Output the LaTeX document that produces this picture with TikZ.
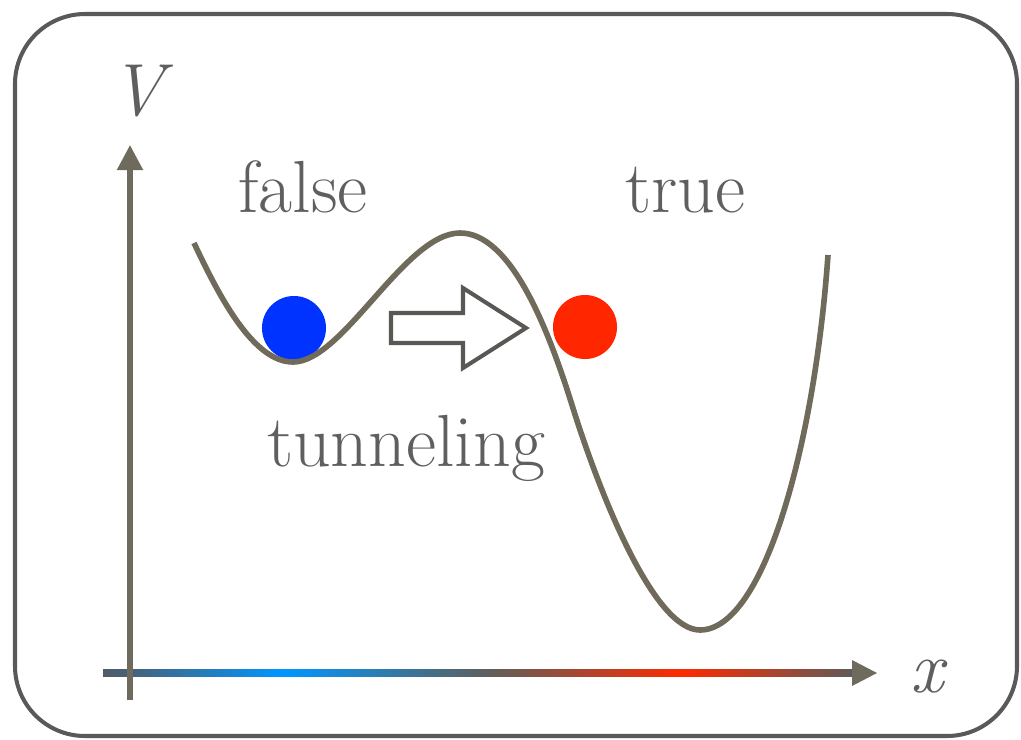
\documentclass[tikz,border=0pt]{standalone}
\usepackage{fontspec}
\usetikzlibrary{arrows.meta, calc}
\definecolor{FrameColor}{RGB}{89,89,89}
\definecolor{AxisColor}{RGB}{111,107,92}
\definecolor{CurveColor}{RGB}{112,106,90}
\definecolor{TextColor}{RGB}{95,95,95}
\definecolor{FalseBlue}{RGB}{0,51,255}
\definecolor{TrueRed}{RGB}{255,38,0}
\definecolor{AxisSlate}{RGB}{82,90,100}
\definecolor{AxisBlue}{RGB}{0,150,255}
\definecolor{AxisMid}{RGB}{95,95,90}
\definecolor{AxisRed}{RGB}{255,42,0}
\definecolor{AxisEnd}{RGB}{95,90,88}
\definecolor{ArrowEdge}{RGB}{90,88,85}

\begin{document}
\begin{tikzpicture}[x=0.01cm, y=-0.01cm,
    frame/.style={draw=FrameColor, line width=1.15pt, rounded corners=0.7cm},
    axis/.style={AxisColor, line width=1.45pt, -{Triangle[length=0.25cm, width=0.25cm]}},
    potential/.style={CurveColor, line width=1.6pt},
    ball/.style={circle, inner sep=0pt, minimum size=0.64cm},
    word/.style={text=TextColor, font=\fontsize{21}{25}\selectfont, inner sep=0pt, anchor=base},
    axislabel/.style={text=TextColor, font=\fontsize{21}{25}\selectfont\itshape, inner sep=0pt, anchor=base},
    hollow/.style={draw=ArrowEdge, fill=white, line width=1.15pt, line join=miter}]
  \useasboundingbox (0,0) rectangle (1021,739);
  \draw[frame] (15,14) rectangle (1017,736);

  % axes
  \coordinate (xstart) at (103,673);
  \coordinate (xend) at (877,673);
  \coordinate (ystart) at (130,700);
  \coordinate (yend) at (130,145);
  \shade[left color=AxisSlate, right color=AxisBlue] (103,669.5) rectangle (284,676.5);
  \shade[left color=AxisBlue, right color=AxisMid] (283,669.5) rectangle (491,676.5);
  \shade[left color=AxisMid, right color=AxisRed] (490,669.5) rectangle (682,676.5);
  \shade[left color=AxisRed, right color=AxisEnd] (681,669.5) rectangle (853,676.5);
  \fill[AxisColor] ($(xend)+(-25,-13)$) -- (xend) -- ($(xend)+(-25,13)$) -- cycle;
  \draw[axis] (ystart) -- (yend);
  \node[axislabel] (vlabel) at (137,115) {V};
  \node[axislabel] (xlabel) at (927,692) {x};

  % vacua
  \node[ball, fill=FalseBlue] (falseball) at (294,328) {};
  \node[ball, fill=TrueRed] (trueball) at (585,327) {};
  \draw[potential] (194,243) .. controls (219,296) and (253,362) .. (293,362)
    .. controls (343,362) and (405,233) .. (460,233)
    .. controls (510,233) and (547,325) .. (572,405)
    .. controls (602,501) and (655,630) .. (700,630)
    .. controls (765,630) and (815,440) .. (828,255);

  % tunneling arrow
  \draw[hollow] (391,313) -- (463,313) -- (463,288) -- (526,328)
    -- (463,368) -- (463,343) -- (391,343) -- cycle;

  \node[word] (falselabel) at (303,212) {false};
  \node[word] (truelabel) at (685,212) {true};
  \node[word] (tunnellabel) at (406,466) {tunneling};
\end{tikzpicture}
\end{document}
